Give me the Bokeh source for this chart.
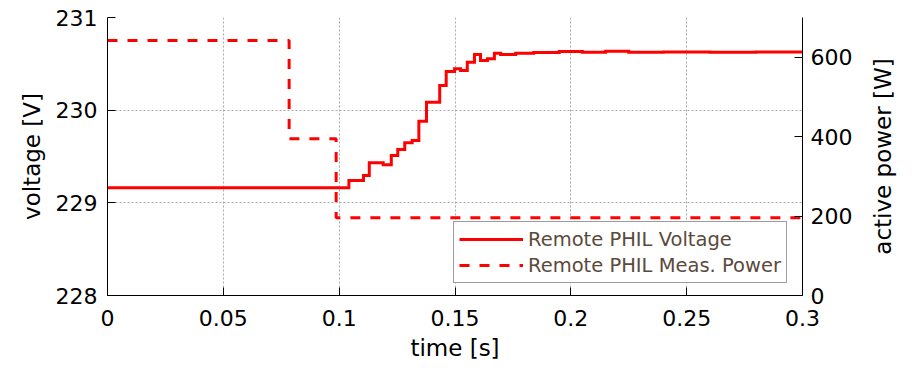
import math
from bokeh.plotting import figure
from bokeh.models import Range1d, LinearAxis, FixedTicker, Legend, LegendItem, Label
from bokeh.embed import file_html
from bokeh.resources import INLINE

# ---- data ----
volt_t = [0.0, 0.1042, 0.1105, 0.113, 0.119, 0.1225, 0.1253, 0.1283, 0.1315, 0.1344,
          0.1377, 0.1434, 0.1462, 0.1498, 0.1524, 0.1553, 0.1584, 0.161, 0.164, 0.167,
          0.1697, 0.1762, 0.184, 0.195, 0.205, 0.215, 0.225, 0.24, 0.26, 0.28, 0.3]
volt_v = [229.162, 229.241, 229.295, 229.432, 229.410, 229.511, 229.576, 229.648, 229.673, 229.881,
          230.086, 230.266, 230.417, 230.446, 230.428, 230.518, 230.601, 230.536, 230.554, 230.615,
          230.601, 230.615, 230.622, 230.633, 230.626, 230.636, 230.624, 230.628, 230.624, 230.627, 230.627]
power_t = [0.0, 0.0784, 0.0987, 0.3]
power_w = [642, 395, 196, 197]

x_ticks = [0, 0.05, 0.1, 0.15, 0.2, 0.25, 0.3]
x_tick_labels = ["0", "0.05", "0.1", "0.15", "0.2", "0.25", "0.3"]
v_ticks = [228, 229, 230, 231]
p_ticks = [0, 200, 400, 600]
legend_labels = ["Remote PHIL Voltage", "Remote PHIL Meas. Power"]
right_label = "active power [W]"

FONT = "DejaVu Sans"

p = figure(width=912, height=368, output_backend="svg", toolbar_location=None,
           x_range=Range1d(0, 0.3), y_range=Range1d(228, 231),
           min_border_left=107, min_border_right=110, min_border_top=17, min_border_bottom=73,
           x_axis_label="time [s]", y_axis_label="voltage [V]")
p.outline_line_color = None
p.background_fill_color = "white"
p.border_fill_color = "white"
p.extra_y_ranges = {"power": Range1d(0, 700)}

def style_axis(ax):
    ax.axis_line_color = "black"
    ax.axis_line_width = 1
    ax.major_tick_in = 8
    ax.major_tick_out = 0
    ax.minor_tick_in = 0
    ax.minor_tick_out = 0
    ax.major_tick_line_color = "black"
    ax.major_label_text_font = FONT
    ax.major_label_text_font_size = "22px"
    ax.major_label_text_color = "black"
    ax.axis_label_text_font = FONT
    ax.axis_label_text_font_size = "23px"
    ax.axis_label_text_font_style = "normal"
    ax.axis_label_text_color = "black"

xa = p.xaxis[0]
style_axis(xa)
xa.ticker = FixedTicker(ticks=x_ticks)
xa.major_label_overrides = dict(zip(x_ticks, x_tick_labels))
xa.major_label_standoff = 14
xa.axis_label_standoff = 6

ya = p.yaxis[0]
style_axis(ya)
ya.ticker = FixedTicker(ticks=v_ticks)
ya.major_label_standoff = 10
ya.axis_label_standoff = 8

ra = LinearAxis(y_range_name="power")
style_axis(ra)
ra.ticker = FixedTicker(ticks=p_ticks)
ra.major_label_standoff = 8
p.add_layout(ra, "right")

# right-axis title, rotated to read bottom-to-top as in the reference
rl = Label(x=0.3347, y=350, y_range_name="power", text=right_label, angle=math.pi / 2,
           text_align="center", text_baseline="middle", text_font=FONT,
           text_font_size="23px", text_color="black")
p.add_layout(rl, "right")

p.xgrid.ticker = FixedTicker(ticks=x_ticks)
p.ygrid.ticker = FixedTicker(ticks=v_ticks)
for g in (p.xgrid[0], p.ygrid[0]):
    g.grid_line_color = "#a8a8a8"
    g.grid_line_dash = "2 2"
    g.grid_line_width = 1

r_v = p.step(volt_t, volt_v, mode="after", line_color="#ff0000", line_width=3, line_join="miter")
r_p = p.step(power_t, power_w, mode="after", y_range_name="power", line_color="#ff0000",
             line_width=3, line_dash="10 10")

legend = Legend(items=[LegendItem(label=legend_labels[0], renderers=[r_v]),
                       LegendItem(label=legend_labels[1], renderers=[r_p])],
                location=(346, 12))
legend.label_text_font = FONT
legend.label_text_font_size = "19.5px"
legend.label_text_color = "#5b4a3b"
legend.glyph_width = 64
legend.glyph_height = 24
legend.label_height = 24
legend.label_standoff = 5
legend.padding = 5
legend.spacing = 2
legend.margin = 0
legend.border_line_color = "#3a3a3a"
legend.border_line_width = 1
legend.background_fill_color = "white"
legend.background_fill_alpha = 1
p.add_layout(legend)

open("out.html", "w").write(file_html(p, INLINE))
